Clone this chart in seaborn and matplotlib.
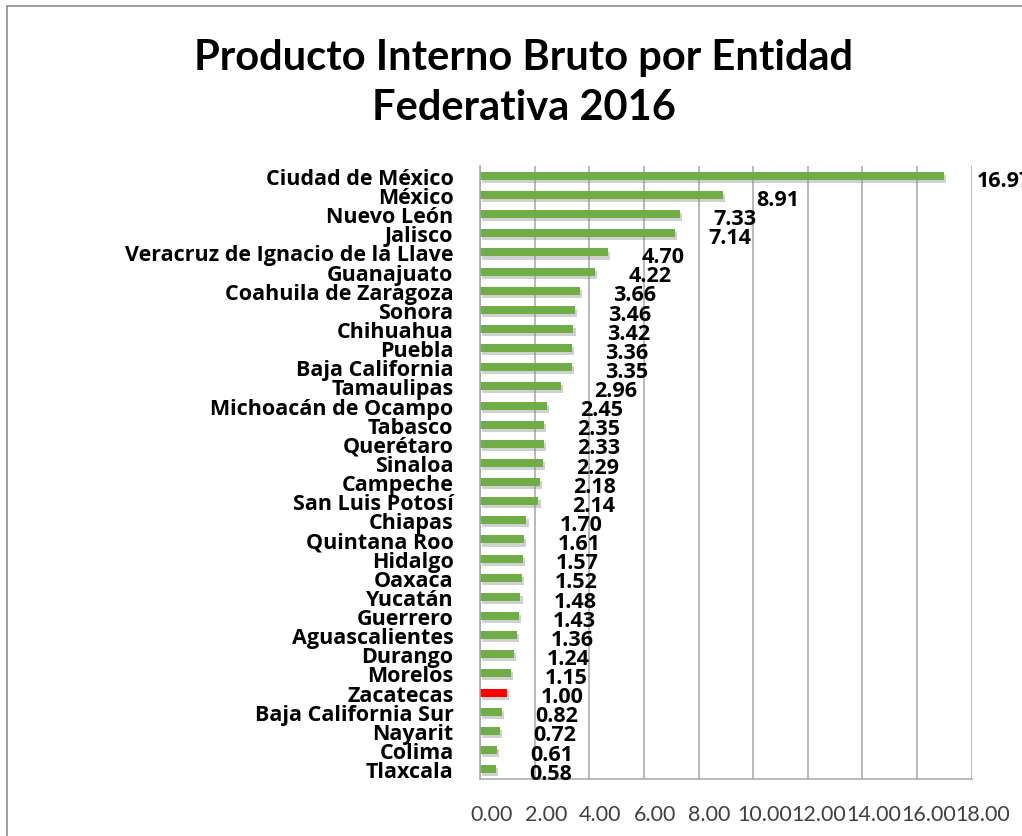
import matplotlib
matplotlib.use("Agg")
import matplotlib.pyplot as plt
import matplotlib.patheffects as pe
from matplotlib.lines import Line2D
import seaborn as sns
import pandas as pd

estados = ["Ciudad de México", "México", "Nuevo León", "Jalisco",
           "Veracruz de Ignacio de la Llave", "Guanajuato", "Coahuila de Zaragoza",
           "Sonora", "Chihuahua", "Puebla", "Baja California", "Tamaulipas",
           "Michoacán de Ocampo", "Tabasco", "Querétaro", "Sinaloa", "Campeche",
           "San Luis Potosí", "Chiapas", "Quintana Roo", "Hidalgo", "Oaxaca",
           "Yucatán", "Guerrero", "Aguascalientes", "Durango", "Morelos",
           "Zacatecas", "Baja California Sur", "Nayarit", "Colima", "Tlaxcala"]
pib = [16.97, 8.91, 7.33, 7.14, 4.70, 4.22, 3.66, 3.46, 3.42, 3.36, 3.35, 2.96,
       2.45, 2.35, 2.33, 2.29, 2.18, 2.14, 1.70, 1.61, 1.57, 1.52, 1.48, 1.43,
       1.36, 1.24, 1.15, 1.00, 0.82, 0.72, 0.61, 0.58]
destacado = "Zacatecas"
xticks = [0, 2, 4, 6, 8, 10, 12, 14, 16, 18]

df = pd.DataFrame({"estado": estados, "pib": pib})
colores = {e: ("#FF0000" if e == destacado else "#70AD47") for e in estados}

sns.set_theme(style="white")
plt.rcParams["font.family"] = ["Lato", "DejaVu Sans"]

fig = plt.figure(figsize=(10.22, 8.37), dpi=100)
ax = fig.add_axes([480 / 1022, 57 / 837, 491.7 / 1022, 613 / 837])

sns.barplot(data=df, x="pib", y="estado", hue="estado", palette=colores,
            legend=False, orient="h", width=0.42, ax=ax, saturation=1)

for p in ax.patches:
    p.set_path_effects([pe.SimplePatchShadow(offset=(1.5, -2.2), shadow_rgbFace="#8a8a8a", alpha=0.4),
                        pe.Normal()])
    p.set_linewidth(0)

for i, v in enumerate(pib):
    ax.annotate(f"{v:.2f}", xy=(v, i), xytext=(24, -3), textcoords="offset points",
                ha="left", va="center", fontsize=15.5, fontweight="bold",
                family=["Open Sans", "DejaVu Sans"],
                color="black", annotation_clip=False)

ax.set_xlim(0, 18)
ax.set_ylim(len(estados) - 1 + 0.52, -0.52)
ax.set_xticks(xticks)
ax.set_xticklabels([])
xform = ax.get_xaxis_transform()
for t in xticks:
    ax.annotate(f"{t:.2f}", xy=(t, 0), xycoords=xform, xytext=(8, -25),
                textcoords="offset points", ha="center", va="center",
                fontsize=15.5, color="#404040", annotation_clip=False)
ax.grid(axis="x", color="#a6a6a6", linewidth=1.1)
ax.grid(axis="y", visible=False)
ax.set_axisbelow(True)
ax.set_xlabel("")
ax.set_ylabel("")
for s in ["top", "right"]:
    ax.spines[s].set_visible(False)
for s in ["left", "bottom"]:
    ax.spines[s].set_color("#a6a6a6")
    ax.spines[s].set_linewidth(1.1)
ax.tick_params(axis="x", length=0)
ax.tick_params(axis="y", length=0, pad=19)
for lbl in ax.get_yticklabels():
    lbl.set_fontsize(15.5)
    lbl.set_fontweight("bold")
    lbl.set_family(["Open Sans", "DejaVu Sans"])
    lbl.set_color("black")

fig.text(524 / 1022, 1 - 83 / 837, "Producto Interno Bruto por Entidad\nFederativa 2016",
         ha="center", va="center", fontsize=30, fontweight="bold", linespacing=1.4,
         color="black")

fig.add_artist(Line2D([7 / 1022, 1], [1 - 7 / 837, 1 - 7 / 837], color="#8c8c8c", lw=1.2,
                      transform=fig.transFigure))
fig.add_artist(Line2D([7 / 1022, 7 / 1022], [0, 1 - 7 / 837], color="#8c8c8c", lw=1.2,
                      transform=fig.transFigure))

fig.savefig("out.png", dpi=100)
